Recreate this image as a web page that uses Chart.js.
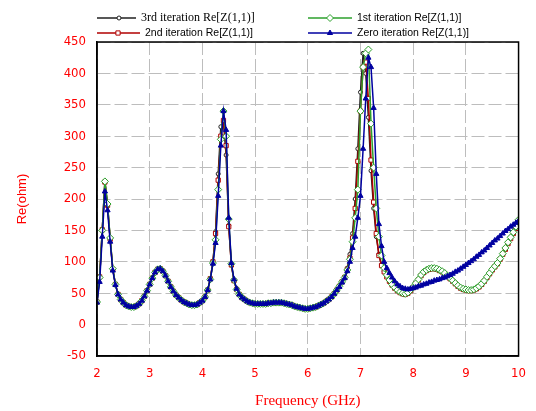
<!DOCTYPE html>
<html>
<head>
<meta charset="utf-8">
<script src="https://cdn.jsdelivr.net/npm/chart.js@4.4.0/dist/chart.umd.min.js"></script>
<style>
html, body { margin: 0; padding: 0; background: #fff; }
#wrap { width: 536px; height: 411px; }
</style>
</head>
<body>
<div id="wrap"><canvas id="chart" width="536" height="411"></canvas></div>
<script>
// frequency points (GHz)
const freq = [
  2.00, 2.05, 2.10, 2.15, 2.20, 2.25, 2.30, 2.35, 2.40, 2.45,
  2.50, 2.55, 2.60, 2.65, 2.70, 2.75, 2.80, 2.85, 2.90, 2.95,
  3.00, 3.05, 3.10, 3.15, 3.20, 3.25, 3.30, 3.35, 3.40, 3.45,
  3.50, 3.55, 3.60, 3.65, 3.70, 3.75, 3.80, 3.85, 3.90, 3.95,
  4.00, 4.05, 4.10, 4.15, 4.20, 4.25, 4.30, 4.35, 4.40, 4.45,
  4.50, 4.55, 4.60, 4.65, 4.70, 4.75, 4.80, 4.85, 4.90, 4.95,
  5.00, 5.05, 5.10, 5.15, 5.20, 5.25, 5.30, 5.35, 5.40, 5.45,
  5.50, 5.55, 5.60, 5.65, 5.70, 5.75, 5.80, 5.85, 5.90, 5.95,
  6.00, 6.05, 6.10, 6.15, 6.20, 6.25, 6.30, 6.35, 6.40, 6.45,
  6.50, 6.55, 6.60, 6.65, 6.70, 6.75, 6.80, 6.85, 6.90, 6.95,
  7.00, 7.05, 7.10, 7.15, 7.20, 7.25, 7.30, 7.35, 7.40, 7.45,
  7.50, 7.55, 7.60, 7.65, 7.70, 7.75, 7.80, 7.85, 7.90, 7.95,
  8.00, 8.05, 8.10, 8.15, 8.20, 8.25, 8.30, 8.35, 8.40, 8.45,
  8.50, 8.55, 8.60, 8.65, 8.70, 8.75, 8.80, 8.85, 8.90, 8.95,
  9.00, 9.05, 9.10, 9.15, 9.20, 9.25, 9.30, 9.35, 9.40, 9.45,
  9.50, 9.55, 9.60, 9.65, 9.70, 9.75, 9.80, 9.85, 9.90, 9.95,
  10.00
];

// Re[Z(1,1)] in ohm
const iter3 = [
  36, 75, 150, 228, 190, 136, 88, 64, 48, 40,
  35, 31, 29, 28, 28, 30, 33, 38, 45, 54,
  64, 74, 83, 88, 89, 85, 78, 69, 60, 53,
  47, 43, 39, 36, 34, 32, 31, 31, 32, 35,
  38, 44, 55, 73, 100, 148, 240, 315, 322, 270,
  158, 95, 70, 56, 48, 43, 40, 37, 35, 34,
  33, 33, 33, 33, 33, 34, 34, 35, 35, 35,
  35, 34, 33, 32, 31, 29, 28, 27, 26, 25,
  25, 26, 27, 28, 30, 32, 34, 37, 40, 44,
  49, 55, 61, 68, 76, 90, 112, 145, 200, 280,
  370, 432, 400, 330, 245, 185, 140, 112, 95, 85,
  77, 70, 64, 59, 55, 52, 50, 49, 51, 55,
  60, 66, 72, 79, 84, 87, 89, 90, 90, 89,
  87, 85, 82, 78, 74, 70, 66, 62, 59, 57,
  56, 55, 55, 56, 58, 61, 65, 70, 76, 82,
  88, 93, 98, 105, 113, 122, 131, 139, 147, 156,
  166
];
const iter2 = [
  36, 76, 151, 227, 190, 136, 88, 64, 48, 40,
  35, 31, 29, 28, 28, 30, 33, 38, 45, 54,
  64, 74, 83, 88, 89, 85, 78, 69, 60, 53,
  47, 43, 39, 36, 34, 32, 31, 31, 32, 35,
  38, 44, 55, 73, 100, 145, 230, 300, 325, 285,
  156, 95, 70, 56, 48, 43, 40, 37, 35, 34,
  33, 33, 33, 33, 33, 34, 34, 35, 35, 35,
  35, 34, 33, 32, 31, 29, 28, 27, 26, 25,
  25, 26, 27, 28, 30, 32, 34, 37, 40, 44,
  49, 55, 61, 68, 75, 88, 106, 138, 185, 260,
  340, 410, 418, 360, 262, 195, 145, 110, 94, 84,
  76, 69, 63, 58, 54, 51, 49, 48, 50, 54,
  59, 65, 71, 78, 83, 86, 88, 89, 89, 88,
  86, 84, 81, 77, 73, 69, 65, 61, 58, 56,
  55, 54, 54, 55, 57, 60, 64, 69, 75, 81,
  87, 92, 97, 104, 112, 120, 129, 137, 145, 153,
  163
];
const iter1 = [
  36, 75, 150, 228, 192, 138, 89, 64, 48, 40,
  35, 31, 29, 28, 28, 30, 33, 38, 45, 54,
  64, 74, 83, 88, 89, 85, 78, 69, 60, 53,
  47, 43, 39, 36, 34, 32, 31, 31, 32, 35,
  38, 44, 55, 72, 98, 135, 215, 295, 340, 300,
  168, 97, 71, 56, 48, 43, 40, 37, 35, 34,
  33, 33, 33, 33, 33, 34, 34, 35, 35, 35,
  35, 34, 33, 32, 31, 29, 28, 27, 26, 25,
  25, 26, 27, 28, 30, 32, 34, 37, 40, 44,
  49, 55, 61, 68, 75, 87, 104, 132, 170, 215,
  340, 410, 432, 438, 320, 250, 185, 140, 110, 90,
  79, 71, 64, 59, 55, 52, 50, 49, 51, 55,
  60, 66, 72, 79, 84, 87, 89, 90, 90, 89,
  87, 85, 82, 78, 74, 70, 66, 62, 59, 57,
  56, 55, 55, 56, 58, 61, 65, 70, 76, 82,
  88, 93, 98, 105, 113, 122, 131, 139, 147, 156,
  167
];
const iter0 = [
  35, 68, 140, 212, 182, 132, 86, 63, 48, 40,
  35, 31, 29, 28, 28, 30, 33, 38, 45, 54,
  64, 74, 83, 88, 89, 85, 78, 69, 60, 53,
  47, 43, 39, 36, 34, 32, 31, 31, 32, 35,
  38, 44, 55, 72, 97, 130, 205, 285, 340, 310,
  170, 98, 72, 57, 48, 43, 40, 37, 35, 34,
  33, 33, 33, 33, 33, 34, 34, 35, 35, 35,
  35, 34, 33, 32, 31, 29, 28, 27, 26, 25,
  25, 26, 27, 28, 30, 32, 34, 37, 40, 44,
  49, 55, 60, 67, 74, 85, 100, 122, 140, 170,
  205, 280, 360, 425, 410, 345, 240, 160, 125, 100,
  90, 82, 75, 69, 64, 61, 58, 57, 56, 57,
  58, 59, 61, 62, 64, 65, 67, 68, 70, 71,
  72, 74, 75, 77, 79, 81, 84, 86, 89, 92,
  95, 98, 101, 104, 108, 111, 115, 118, 122, 126,
  130, 134, 137, 141, 145, 149, 152, 156, 159, 162,
  165
];

const names = [
  '3rd iteration Re[Z(1,1)]',
  '2nd iteration Re[Z(1,1)]',
  '1st iteration Re[Z(1,1)]',
  'Zero iteration Re[Z(1,1)]'
];

const RED = '#ff0000';
const GRID = '#bdbdbd';
const TICK_FONT = { family: '"Liberation Sans Narrow", "DejaVu Sans Condensed", "Liberation Sans", sans-serif', size: 13 };

function pts(ys) {
  return freq.map((f, i) => ({ x: f, y: ys[i] }));
}

// legend in two columns above the plot, plus a full frame round the plot
const framePlugin = {
  id: 'frameAndLegend',
  afterDraw(chart) {
    const ctx = chart.ctx;
    const a = chart.chartArea;
    ctx.save();
    ctx.strokeStyle = '#000';
    ctx.lineWidth = 1.5;
    ctx.strokeRect(a.left, a.top, a.right - a.left, a.bottom - a.top);

    const items = [
      { ds: 0, x0: 97, x1: 136, mx: 119, tx: 141, y: 18, font: '12px "Liberation Serif", serif' },
      { ds: 1, x0: 97, x1: 140, mx: 118, tx: 145, y: 33, font: '10.5px "Liberation Sans", Arial, sans-serif' },
      { ds: 2, x0: 308, x1: 352, mx: 330, tx: 357, y: 18, font: '10.5px "Liberation Sans", Arial, sans-serif' },
      { ds: 3, x0: 308, x1: 352, mx: 330, tx: 357, y: 33, font: '10.5px "Liberation Sans", Arial, sans-serif' }
    ];
    items.forEach(it => {
      const d = chart.data.datasets[it.ds];
      ctx.strokeStyle = d.borderColor;
      ctx.lineWidth = 1.5;
      ctx.setLineDash([]);
      ctx.beginPath();
      ctx.moveTo(it.x0, it.y);
      ctx.lineTo(it.x1, it.y);
      ctx.stroke();
      ctx.fillStyle = d.pointBackgroundColor;
      ctx.strokeStyle = d.pointBorderColor;
      ctx.lineWidth = 1;
      Chart.helpers.drawPoint(ctx, { pointStyle: d.pointStyle, radius: d.pointRadius, borderWidth: 1 }, it.mx, it.y);
      ctx.fillStyle = '#000';
      ctx.font = it.font;
      ctx.textBaseline = 'middle';
      ctx.textAlign = 'left';
      ctx.fillText(names[it.ds], it.tx, it.y);
    });
    ctx.restore();
  }
};

new Chart(document.getElementById('chart'), {
  type: 'line',
  data: {
    datasets: [
      {
        label: names[0], data: pts(iter3), order: 4,
        borderColor: '#202020', borderWidth: 1.5,
        pointStyle: 'circle', pointRadius: 2,
        pointBackgroundColor: '#fff', pointBorderColor: '#202020', pointBorderWidth: 1
      },
      {
        label: names[1], data: pts(iter2), order: 3,
        borderColor: '#b00000', borderWidth: 1.5,
        pointStyle: 'rect', pointRadius: 3,
        pointBackgroundColor: '#fff', pointBorderColor: '#b00000', pointBorderWidth: 1
      },
      {
        label: names[2], data: pts(iter1), order: 2,
        borderColor: '#2ca02c', borderWidth: 1.5,
        pointStyle: 'rectRot', pointRadius: 3.5,
        pointBackgroundColor: '#fff', pointBorderColor: '#2ca02c', pointBorderWidth: 1
      },
      {
        label: names[3], data: pts(iter0), order: 1,
        borderColor: '#0000a0', borderWidth: 1.5,
        pointStyle: 'triangle', pointRadius: 3,
        pointBackgroundColor: '#0000a0', pointBorderColor: '#0000a0', pointBorderWidth: 1
      }
    ]
  },
  options: {
    responsive: false,
    animation: false,
    devicePixelRatio: 1,
    layout: { padding: { left: 0, right: 14, top: 42, bottom: 0 } },
    plugins: { legend: { display: false }, tooltip: { enabled: false } },
    elements: { line: { tension: 0 } },
    scales: {
      x: {
        type: 'linear', min: 2, max: 10,
        ticks: { stepSize: 1, color: RED, padding: 10, font: TICK_FONT },
        grid: { color: GRID, lineWidth: 1, drawTicks: false },
        border: { display: true, color: '#000', width: 1.5, dash: [13, 4] },
        title: { display: true, text: 'Frequency (GHz)', color: RED,
          font: { family: '"Liberation Serif", serif', size: 15 }, padding: { top: 0, bottom: 1 } },
        afterFit(s) { s.height = 55; }
      },
      y: {
        min: -50, max: 450,
        ticks: { stepSize: 50, color: RED, padding: 11, font: TICK_FONT },
        grid: { color: GRID, lineWidth: 1, drawTicks: false },
        border: { display: true, color: '#000', width: 1.5, dash: [13, 4] },
        title: { display: true, text: 'Re(ohm)', color: RED,
          font: { family: '"Liberation Sans", Arial, sans-serif', size: 13 }, padding: { top: 15, bottom: 0 } },
        afterFit(s) { s.width = 97; }
      }
    }
  },
  plugins: [framePlugin]
});
</script>
</body>
</html>
